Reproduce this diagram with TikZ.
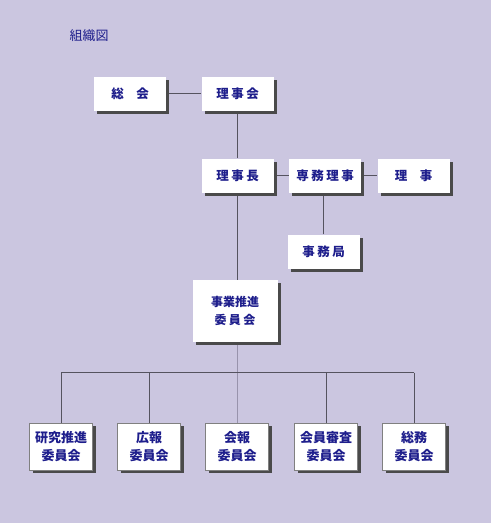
\documentclass[tikz,border=0pt]{standalone}
\usepackage{fontspec}
\setmainfont{Noto Sans CJK JP}
\usetikzlibrary{positioning, calc, shadows, backgrounds}

\definecolor{bgcol}{HTML}{CBC6E0}
\definecolor{navy}{HTML}{1E1E8C}
\definecolor{shade}{HTML}{4A4A4A}
\definecolor{linecol}{HTML}{55535F}
\definecolor{spinecol}{HTML}{9893AC}

\tikzset{
  orgbox/.style={fill=white, text=navy, inner sep=0pt, align=center,
    minimum width=72pt, minimum height=34pt,
    font=\fontsize{12.5}{18}\selectfont\bfseries,
    drop shadow={shadow xshift=3pt, shadow yshift=-3pt, opacity=1, fill=shade}},
  subbox/.style={orgbox, draw=gray, minimum width=63pt, minimum height=47pt,
    font=\fontsize{13}{18}\selectfont\bfseries},
  link/.style={draw=linecol, line width=1pt},
  spine/.style={draw=spinecol, line width=1.5pt},
}

\begin{document}
\begin{tikzpicture}[x=1pt, y=-1pt]
    \useasboundingbox (0,0) rectangle (492,524);

    % --- Title ---
    \node[text=navy, font=\fontsize{13}{13}\selectfont] (title) at (89,36) {組織図};

    % --- Board ---
    \node[orgbox] (sokai)   at (130,94)  {総　会};
    \node[orgbox] (rijikai) at (237.5,94) {理\hspace{2.5pt}事\hspace{2.5pt}会};

    % --- Executives ---
    \node[orgbox] (rijicho)   at (237.5,175.5) {理\hspace{2.5pt}事\hspace{2.5pt}長};
    \node[orgbox] (senmu)     at (325,175.5)   {専\hspace{2.5pt}務\hspace{2.5pt}理\hspace{2.5pt}事};
    \node[orgbox] (riji)      at (413.5,175.5) {理　事};
    \node[orgbox] (jimukyoku) at (323.5,251.5) {事\hspace{2.5pt}務\hspace{2.5pt}局};

    % --- Promotion committee ---
    \node[orgbox, minimum width=85pt, minimum height=62pt,
          font=\fontsize{12}{18}\selectfont\bfseries]
          (jigyo) at (235,311) {事業推進\\委\hspace{2.5pt}員\hspace{2.5pt}会};

    % --- Committees ---
    \foreach \x/\name/\txt in {61/kenkyu/{研究推進\\委員会}, 149/koho/{広報\\委員会},
                               237/kaiho/{会報\\委員会}, 326/shinsa/{会員審査\\委員会},
                               414/somu/{総務\\委員会}}
        \node[subbox] (\name) at (\x,446.5) {\txt};

    \coordinate (bus) at (0,372.5);

    \begin{pgfonlayer}{background}
        \fill[bgcol] (0,0) rectangle (491,523);

        % Connectors
        \draw[link] (sokai.east) -- (rijikai.west);
        \draw[link] (rijikai.south) -- (rijicho.north);
        \draw[link] (rijicho.east) -- (senmu.west);
        \draw[link] (senmu.east) -- (riji.west);
        \draw[link] (jimukyoku.north) -- (jimukyoku.north |- senmu.south);
        \draw[link] (rijicho.south) -- (rijicho.south |- jigyo.north);
        \draw[spine] (rijicho.south |- jigyo.south) -- (rijicho.south |- kaiho.north);

        % Bus to committees
        \draw[link] (kenkyu.north |- bus) -- (somu.north |- bus);
        \foreach \name in {kenkyu, koho, shinsa, somu}
            \draw[link] (\name.north |- bus) -- (\name.north);
    \end{pgfonlayer}

\end{tikzpicture}
\end{document}
